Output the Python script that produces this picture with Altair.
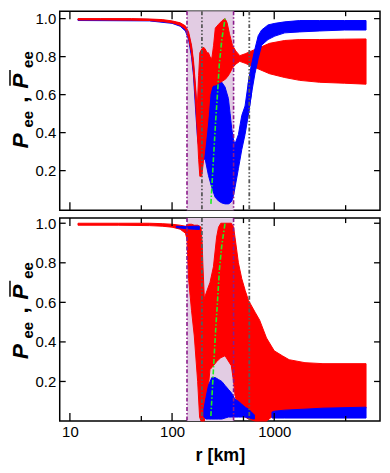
import altair as alt
import pandas as pd

# ---------------- data ----------------
# top panel, red band (r [km], lower, upper)
top_red_r  = [12, 20, 40, 60, 80, 100, 120, 135, 145, 155, 162, 170, 176, 182, 187, 195, 203, 211, 220, 227, 235, 245, 255, 265, 285, 310, 330, 345, 365, 390, 420, 460, 520, 600, 700, 900, 1268, 1775, 2780, 4870, 7920]
top_red_lo = [0.993, 0.993, 0.992, 0.99, 0.985, 0.978, 0.965, 0.945, 0.90, 0.82, 0.72, 0.56, 0.42, 0.26, 0.17, 0.17, 0.25, 0.33, 0.42, 0.50, 0.60, 0.64, 0.65, 0.65, 0.66, 0.67, 0.68, 0.69, 0.71, 0.74, 0.76, 0.775, 0.765, 0.75, 0.735, 0.71, 0.69, 0.675, 0.665, 0.66, 0.655]
top_red_hi = [1.0, 1.0, 1.0, 0.998, 0.995, 0.988, 0.978, 0.962, 0.93, 0.86, 0.78, 0.64, 0.52, 0.70, 0.82, 0.84, 0.85, 0.84, 0.82, 0.82, 0.80, 0.79, 0.86, 0.95, 0.97, 0.99, 1.0, 0.98, 0.92, 0.86, 0.83, 0.805, 0.815, 0.83, 0.845, 0.87, 0.885, 0.89, 0.89, 0.892, 0.893]

# top panel, blue band
top_blue_r  = [12, 60, 100, 120, 135, 145, 155, 162, 170, 178, 190, 203, 211, 227, 245, 264, 285, 307, 330, 356, 370, 384, 400, 413, 446, 481, 518, 557, 601, 647, 697, 752, 870, 1014, 1268, 1775, 2780, 4870, 7920]
top_blue_lo = [0.99, 0.988, 0.975, 0.96, 0.935, 0.89, 0.80, 0.70, 0.52, 0.36, 0.28, 0.26, 0.26, 0.175, 0.11, 0.06, 0.04, 0.03, 0.025, 0.025, 0.03, 0.04, 0.07, 0.11, 0.21, 0.31, 0.39, 0.49, 0.61, 0.71, 0.79, 0.86, 0.89, 0.908, 0.925, 0.93, 0.935, 0.94, 0.94]
top_blue_hi = [0.998, 0.996, 0.985, 0.975, 0.955, 0.92, 0.85, 0.76, 0.62, 0.46, 0.40, 0.41, 0.41, 0.59, 0.64, 0.67, 0.675, 0.665, 0.64, 0.58, 0.50, 0.42, 0.36, 0.34, 0.39, 0.49, 0.54, 0.66, 0.76, 0.84, 0.91, 0.94, 0.967, 0.975, 0.983, 0.99, 0.99, 0.99, 0.99]

# bottom panel, red band
bot_red_r  = [12, 30, 60, 80, 100, 120, 135, 140, 145, 155, 165, 178, 186, 192, 197, 200, 207, 220, 235, 254, 273, 285, 300, 330, 380, 400, 413, 446, 481, 520, 560, 650, 720, 840, 1000, 1200, 1400, 2000, 3000, 7920]
bot_red_lo = [0.99, 0.99, 0.988, 0.985, 0.98, 0.97, 0.95, 0.92, 0.72, 0.56, 0.43, 0.20, 0.02, 0.0, 0.0, 0.0, 0.0, 0.10, 0.26, 0.28, 0.30, 0.31, 0.32, 0.33, 0.28, 0.20, 0.13, 0.06, 0.03, 0.02, 0.01, 0.0, 0.0, 0.0, 0.03, 0.045, 0.05, 0.055, 0.06, 0.065]
bot_red_hi = [1.0, 1.0, 1.0, 0.998, 0.995, 0.99, 0.985, 0.99, 0.995, 0.995, 0.99, 0.99, 0.985, 0.98, 0.90, 0.80, 0.62, 0.66, 0.70, 0.78, 0.93, 0.98, 1.0, 1.0, 1.0, 0.98, 0.93, 0.80, 0.72, 0.66, 0.61, 0.55, 0.51, 0.42, 0.355, 0.33, 0.31, 0.295, 0.29, 0.29]

# bottom panel, blue band (visible pieces)
bot_blue_seg = ["a"] * 4 + ["b"] * 17 + ["c"] * 6
bot_blue_r  = [110, 140, 165, 185, 205, 215, 227, 245, 264, 285, 307, 330, 356, 384, 413, 446, 481, 520, 560, 600, 640, 950, 1014, 1268, 2000, 3000, 7920]
bot_blue_lo = [0.978, 0.972, 0.97, 0.968, 0.02, 0.01, 0.01, 0.01, 0.01, 0.01, 0.01, 0.015, 0.02, 0.02, 0.02, 0.02, 0.02, 0.02, 0.015, 0.012, 0.01, 0.015, 0.015, 0.015, 0.015, 0.015, 0.015]
bot_blue_hi = [0.985, 0.982, 0.985, 0.985, 0.06, 0.12, 0.18, 0.22, 0.22, 0.21, 0.20, 0.18, 0.16, 0.14, 0.11, 0.10, 0.085, 0.07, 0.06, 0.045, 0.03, 0.045, 0.05, 0.055, 0.06, 0.065, 0.07]

# green dash-dot curve
green_r = [240, 254, 267, 280, 290, 307, 330]
green_p = [0.025, 0.26, 0.46, 0.625, 0.76, 0.89, 1.0]

# shaded region and vertical markers
shade_from, shade_to = [140], [400]
purple_lines = [140, 400]
gray_lines = [196, 570]

# ticks / labels
y_ticks = [0.2, 0.4, 0.6, 0.8, 1.0]
x_major = [10, 100, 1000]
x_minor = [50, 500, 5000]

X_DOMAIN = [7.95, 10850]
W = 322
FONT = "Liberation Sans"

xs = alt.Scale(type="log", domain=X_DOMAIN, nice=False)

yaxis = alt.Axis(values=y_ticks, format=".1f", labelFontSize=15, labelFont=FONT,
                 labelColor="black", ticks=False, domain=False, grid=False,
                 labelPadding=4, title=None)


def band(r, lo, hi, seg=None):
    d = pd.DataFrame({"r": r, "lo": lo, "hi": hi})
    d["seg"] = seg if seg is not None else "a"
    return d


def panel(red_df, blue_under, blue_over, show_x, H, ydom, tbase):
    ys = alt.Scale(domain=ydom, nice=False, zero=False)
    if show_x:
        xaxis = alt.Axis(values=x_major, format="d", labelFontSize=15, labelFont=FONT,
                         labelColor="black", ticks=False, domain=False, grid=False,
                         labelPadding=4, title="r [km]", titleFont=FONT, titleFontSize=18,
                         titleFontWeight="bold", titleColor="black", titlePadding=7)
    else:
        xaxis = None

    def X(f):
        return alt.X(f, type="quantitative", scale=xs, axis=xaxis)

    def Y(f):
        return alt.Y(f, type="quantitative", scale=ys, axis=yaxis)

    shade = alt.Chart(pd.DataFrame({"a": shade_from, "b": shade_to})).mark_rect(
        color="#e2cce3").encode(x=X("a"), x2="b", y=alt.value(0), y2=alt.value(H))

    def area(df, col):
        return alt.Chart(df).mark_area(color=col, stroke=col, strokeWidth=1).encode(
            x=X("r"), y=Y("lo"), y2="hi", detail="seg:N")

    data_layers = []
    if blue_under is not None:
        data_layers.append(area(blue_under, "#0000ff"))
    data_layers.append(area(red_df, "#ff0000"))
    if blue_over is not None:
        data_layers.append(area(blue_over, "#0000ff"))

    purple = alt.Chart(pd.DataFrame({"v": purple_lines})).mark_rule(
        color="#8a1a8a", strokeWidth=1.6, strokeDash=[4, 2, 1.5, 2]).encode(x=X("v"))
    gray = alt.Chart(pd.DataFrame({"v": gray_lines})).mark_rule(
        color="#5a5a5a", strokeWidth=1.8, strokeDash=[4, 2, 1.5, 2, 1.5, 2]).encode(x=X("v"))
    green = alt.Chart(pd.DataFrame({"r": green_r, "p": green_p})).mark_line(
        color="#22ee22", strokeWidth=1.6, strokeDash=[5, 2, 1.5, 2]).encode(x=X("r"), y=Y("p"))

    ydf = pd.DataFrame({"v": y_ticks})
    yt_l = alt.Chart(ydf).mark_rule(color="black", strokeWidth=1.3).encode(
        y=Y("v"), x=alt.value(0), x2=alt.value(6))
    yt_r = alt.Chart(ydf).mark_rule(color="black", strokeWidth=1.3).encode(
        y=Y("v"), x=alt.value(W - 6), x2=alt.value(W))
    mdf = pd.DataFrame({"v": x_major})
    ndf = pd.DataFrame({"v": x_minor})
    xt = [
        alt.Chart(mdf).mark_rule(color="black", strokeWidth=1.3).encode(x=X("v"), y=alt.value(0), y2=alt.value(8)),
        alt.Chart(mdf).mark_rule(color="black", strokeWidth=1.3).encode(x=X("v"), y=alt.value(H - 8), y2=alt.value(H)),
        alt.Chart(ndf).mark_rule(color="black", strokeWidth=1.3).encode(x=X("v"), y=alt.value(0), y2=alt.value(5)),
        alt.Chart(ndf).mark_rule(color="black", strokeWidth=1.3).encode(x=X("v"), y=alt.value(H - 5), y2=alt.value(H)),
    ]

    # y title pieces: P_ee , P̄_ee  (rotated, reading upward)
    bx = -32
    pieces = [
        ("P", bx, tbase, 23, "italic", "bold"),
        ("ee", bx + 5, tbase - 21, 15, "normal", "bold"),
        (",", bx, tbase - 46, 23, "normal", "bold"),
        ("P", bx, tbase - 60, 23, "italic", "bold"),
        ("ee", bx + 5, tbase - 81, 15, "normal", "bold"),
    ]
    tl = []
    for t, px, py, fs, st, wt in pieces:
        tl.append(alt.Chart(pd.DataFrame({"t": [t]})).mark_text(
            angle=270, align="left", baseline="alphabetic", font=FONT, fontSize=fs,
            fontStyle=st, fontWeight=wt, color="black").encode(
            text="t:N", x=alt.value(px), y=alt.value(py)))
    bar = alt.Chart(pd.DataFrame({"t": [0]})).mark_rule(color="black", strokeWidth=1.5).encode(
        x=alt.value(-50), y=alt.value(tbase - 63), y2=alt.value(tbase - 79))

    return alt.layer(shade, *data_layers, purple, gray, green, yt_l, yt_r, *xt, *tl, bar).properties(
        width=W, height=H)


top_blue = band(top_blue_r, top_blue_lo, top_blue_hi)
top = panel(band(top_red_r, top_red_lo, top_red_hi),
            blue_under=top_blue[top_blue.r <= 601],
            blue_over=top_blue[top_blue.r >= 557],
            show_x=False, H=200, ydom=[-0.008, 1.039], tbase=138)
bottom = panel(band(bot_red_r, bot_red_lo, bot_red_hi),
               blue_under=None,
               blue_over=band(bot_blue_r, bot_blue_lo, bot_blue_hi, bot_blue_seg),
               show_x=True, H=204, ydom=[0, 1.026], tbase=142)

chart = alt.vconcat(top, bottom, spacing=3).properties(padding=0).configure_view(
    stroke="black", strokeWidth=1.5)

chart.save("out.html", embed_options={"renderer": "svg", "actions": False})
